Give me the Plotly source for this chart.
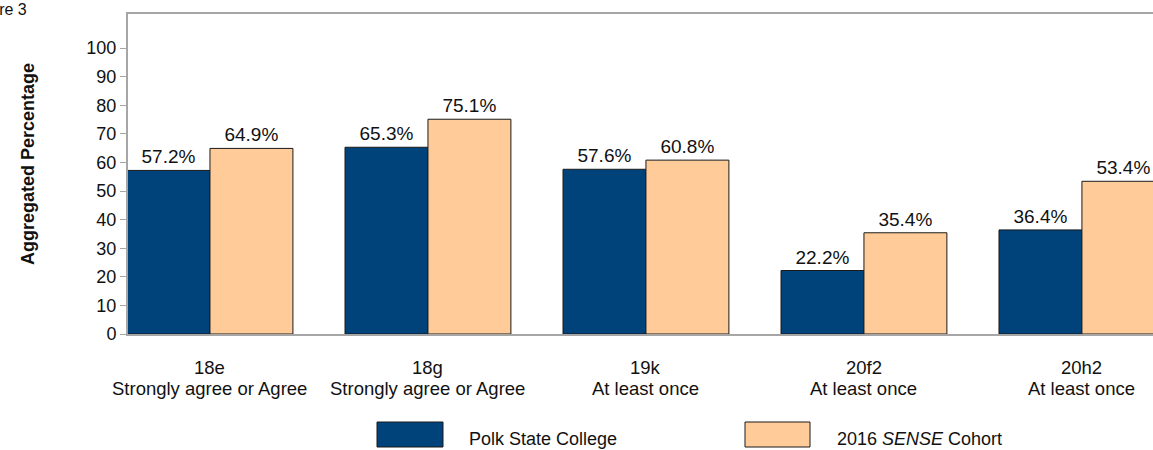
import plotly.graph_objects as go

# Survey items and their response categories
items = ["18e", "18g", "19k", "20f2", "20h2"]
responses = ["Strongly agree or Agree", "Strongly agree or Agree",
             "At least once", "At least once", "At least once"]

# Aggregated percentages
polk = [57.2, 65.3, 57.6, 22.2, 36.4]
cohort = [64.9, 75.1, 60.8, 35.4, 53.4]

series_names = ["Polk State College", "2016 <i>SENSE</i> Cohort"]

NAVY = "#00427A"
PEACH = "#FFCC99"
INK = "#111111"
FONT = "Arial, Liberation Sans, sans-serif"

fig = go.Figure()
for vals, color, name in [(polk, NAVY, series_names[0]), (cohort, PEACH, series_names[1])]:
    fig.add_trace(go.Bar(
        x=items, y=vals, name=name,
        marker=dict(color=color, line=dict(color="#1a1a1a", width=1)),
        text=[f"{v:.1f}%" for v in vals],
        textposition="outside",
        textfont=dict(family=FONT, size=19, color=INK),
        cliponaxis=False,
        showlegend=False,
    ))

fig.update_layout(
    width=1153, height=450,
    margin=dict(l=128, r=0, t=14, b=116),
    paper_bgcolor="white", plot_bgcolor="white",
    barmode="group", bargap=0.239, bargroupgap=0,
    font=dict(family=FONT, size=18, color=INK),
    xaxis=dict(
        type="category", range=[-0.376, 4.326],
        showticklabels=False,
        showline=True, linecolor="#A6A6A6", linewidth=2, mirror=True,
        ticks="", showgrid=False, zeroline=False,
    ),
    yaxis=dict(
        range=[0, 111.9],
        tickvals=list(range(0, 101, 10)),
        showline=True, linecolor="#A6A6A6", linewidth=2,
        ticks="outside", ticklen=6, tickcolor="#A6A6A6", tickwidth=1,
        showgrid=False, zeroline=False,
        tickfont=dict(size=18, color=INK),
    ),
)

W = 1153 - 128
H = 450 - 14 - 116
def px_x(p):
    return (p - 128) / W
def px_y(p):
    return (334 - p) / H

# Two-line category labels under each group
for item, resp in zip(items, responses):
    fig.add_annotation(text=item, x=item, xref="x", yref="paper", y=px_y(367),
                       xanchor="center", yanchor="middle", showarrow=False,
                       font=dict(size=18.5, family=FONT, color=INK))
    fig.add_annotation(text=resp, x=item, xref="x", yref="paper", y=px_y(388),
                       xanchor="center", yanchor="middle", showarrow=False,
                       font=dict(size=18.5, family=FONT, color=INK))

# Axis title
fig.add_annotation(
    text="<b>Aggregated Percentage</b>", textangle=-90,
    xref="paper", yref="paper", x=px_x(28), y=px_y(164),
    xanchor="center", yanchor="middle", showarrow=False,
    font=dict(size=18, family=FONT, color=INK),
)

# Figure caption (partly beyond the left edge)
fig.add_annotation(
    text="Figure 3",
    xref="paper", yref="paper", x=px_x(29), y=px_y(9),
    xanchor="right", yanchor="middle", showarrow=False,
    font=dict(size=16, family=FONT, color=INK),
)

# Legend drawn as swatches with labels
for x0, x1, color, tx, name in [(377, 443, NAVY, 467, series_names[0]),
                                (745, 810, PEACH, 835, series_names[1])]:
    fig.add_shape(type="rect", xref="paper", yref="paper",
                  x0=px_x(x0), x1=px_x(x1), y0=px_y(447), y1=px_y(422),
                  fillcolor=color, line=dict(color="#1a1a1a", width=1))
    fig.add_annotation(text=name, xref="paper", yref="paper",
                       x=px_x(tx), y=px_y(439), xanchor="left", yanchor="middle",
                       showarrow=False, font=dict(size=18, family=FONT, color=INK))

fig.write_html("out.html")
